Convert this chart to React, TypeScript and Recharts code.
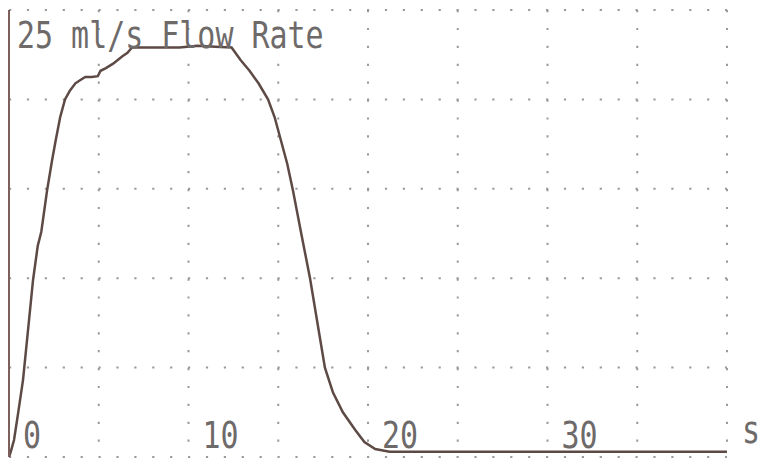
import { LineChart, Line, XAxis, YAxis, CartesianGrid } from "recharts";

// seconds
const flowTime = [
    0, 0.1, 0.28, 0.5, 0.78, 1.06, 1.34, 1.6, 1.8, 2.12, 2.4, 2.6, 2.85, 3.12, 3.4, 3.7, 4.0, 4.25, 4.6, 4.95,
    5.1, 5.4, 5.8, 6.3, 6.6, 6.85, 8, 9.5, 10.5, 11.5, 12.4, 12.9, 13.4, 13.9, 14.43, 14.8, 15.15, 15.5,
    15.82, 16.3, 16.77, 17.2, 17.6, 18.05, 18.6, 19.3, 19.8, 20.4, 21.2, 40,
];
// ml/s
const flowRate = [
    0, 0.3, 0.95, 2.4, 4.3, 7.1, 9.9, 11.8, 12.6, 14.9, 16.6, 17.7, 19.0, 20.0, 20.5, 20.9, 21.1, 21.25, 21.25, 21.3,
    21.6, 21.75, 22.0, 22.4, 22.6, 22.9, 22.9, 22.9, 23.0, 22.95, 22.9, 22.2, 21.6, 20.9, 20.0, 19.0, 17.7, 16.4,
    14.9, 12.4, 10.0, 7.4, 5.0, 3.6, 2.5, 1.5, 0.84, 0.45, 0.3, 0.3,
];

const timeTicks = [0, 5, 10, 15, 20, 25, 30, 35, 40];
const rateTicks = [0, 5, 10, 15, 20, 25];
const timeLabels: Record<number, string> = { 0: "0", 10: "10", 20: "20", 30: "30", 40: "s" };
const title = "25 ml/s Flow Rate";

const data = flowTime.map((t, i) => ({ t, rate: flowRate[i] }));

const FONT = "'DejaVu Sans Mono', 'Liberation Mono', monospace";
const INK = "#6e6a6a";

const TimeTick = ({ x, y, payload }: any) => {
    const label = timeLabels[payload.value];
    if (!label) return <g />;
    const isUnit = label === "s";
    return (
        <text
            transform={`translate(${x + (isUnit ? 15 : 14)},${y + (isUnit ? -14 : -9)}) scale(0.81,1)`}
            fontFamily={FONT}
            fontSize={37}
            fill={INK}
            textAnchor="start"
        >
            {label}
        </text>
    );
};

// y ticks only feed the grid rows, nothing is printed beside the axis
const NoTick = () => <g />;

const TitleLabel = ({ viewBox }: any) => {
    const x = (viewBox?.x ?? 8) + (viewBox?.width ?? 1) + 8;
    const y = (viewBox?.y ?? 10) + 38;
    return (
        <text
            transform={`translate(${x},${y}) scale(0.81,1)`}
            fontFamily={FONT}
            fontSize={37}
            fill={INK}
        >
            {title}
        </text>
    );
};

export default function App() {
    return (
        <div style={{ width: 759, height: 459, background: "#fff" }}>
            <style>{`html,body{margin:0;padding:0;overflow:hidden;background:#fff}`}</style>
            <LineChart
                width={759}
                height={459}
                data={data}
                margin={{ top: 10, right: 32, left: 8, bottom: 1 }}
            >
                <CartesianGrid
                    stroke="#9a9a9a"
                    strokeWidth={2}
                    strokeDasharray="2.2 15.7"
                />
                <XAxis
                    dataKey="t"
                    type="number"
                    domain={[0, 40]}
                    ticks={timeTicks}
                    interval={0}
                    height={1}
                    axisLine={false}
                    tickLine={false}
                    tickSize={0}
                    tickMargin={0}
                    tick={<TimeTick />}
                />
                <YAxis
                    type="number"
                    domain={[0, 25]}
                    ticks={rateTicks}
                    interval={0}
                    width={1}
                    tick={<NoTick />}
                    tickLine={false}
                    axisLine={{ stroke: "#7d605b", strokeWidth: 2 }}
                    label={{ content: <TitleLabel /> }}
                />
                <Line
                    type="linear"
                    dataKey="rate"
                    stroke="#5d4a45"
                    strokeWidth={2.5}
                    dot={false}
                    isAnimationActive={false}
                />
            </LineChart>
        </div>
    );
}
